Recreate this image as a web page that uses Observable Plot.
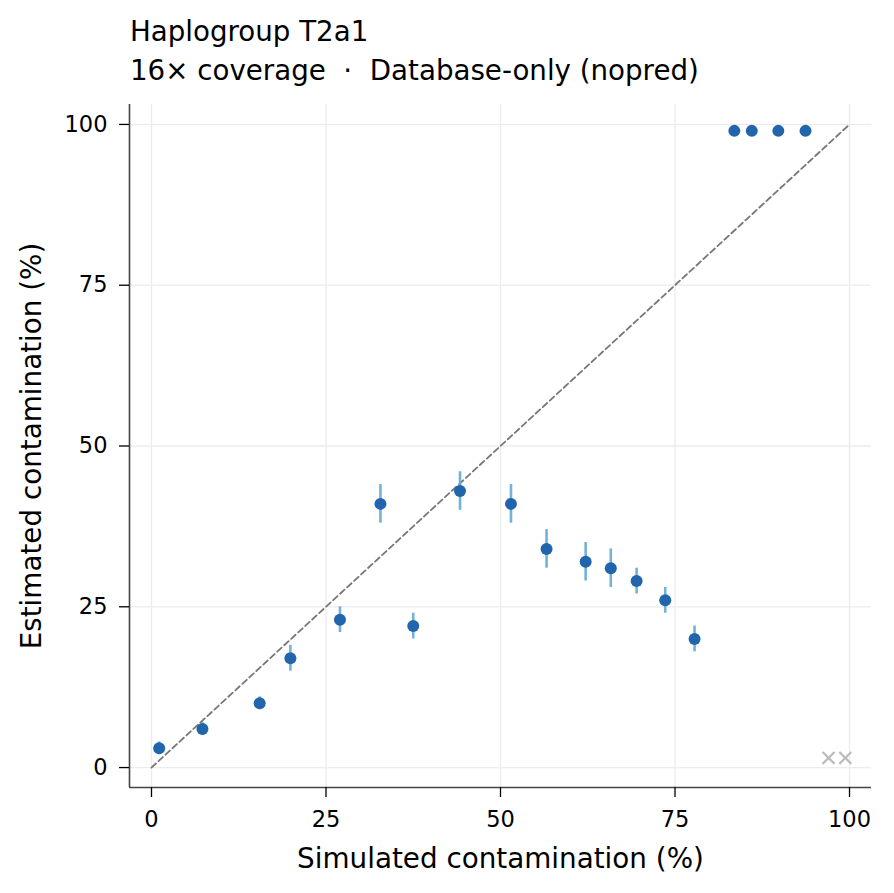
<!DOCTYPE html>
<html>
<head>
<meta charset="utf-8">
<script src="https://cdn.jsdelivr.net/npm/d3@7"></script>
<script src="https://cdn.jsdelivr.net/npm/@observablehq/plot@0.6"></script>
<style>
  body { margin: 0; background: #fff; font-family: "DejaVu Sans", sans-serif; }
  #head { position: relative; height: 90px; width: 894px; }
  #head div { position: absolute; left: 130px; font-size: 27.7px; line-height: normal; color: #000; white-space: pre; }
</style>
</head>
<body>
<div id="head">
  <div id="t1" style="top: 15px;">Haplogroup T2a1</div>
  <div id="t2" style="top: 54px;">16× coverage  ·  Database-only (nopred)</div>
</div>
<div id="chart"></div>
<script>
// Simulated contamination (%)
const simulated = [1.1, 7.3, 15.5, 19.9, 27.0, 32.8, 37.5, 44.2, 51.5, 56.6, 62.2, 65.8, 69.5, 73.6, 77.8, 83.5, 86.0, 89.8, 93.7];
// Estimated contamination (%)
const estimated = [3, 6, 10, 17, 23, 41, 22, 43, 41, 34, 32, 31, 29, 26, 20, 99, 99, 99, 99];
const lower     = [2, 5, 9, 15, 21, 38, 20, 40, 38, 31, 29, 28, 27, 24, 18, 99, 99, 99, 99];
const upper     = [4, 7, 11, 19, 25, 44, 24, 46, 44, 37, 35, 34, 31, 28, 22, 99, 99, 99, 99];
// failed runs (shown as crosses)
const failedX = [97.0, 99.4];
const failedY = [1.5, 1.5];
const ticks = [0, 25, 50, 75, 100];
const diagonal = [0, 100];
const xDomain = [-3.15, 103.15];
const yDomain = [-3.1, 103.1];

const data = simulated.map((x, i) => ({x, y: estimated[i], lo: lower[i], hi: upper[i]}));
const failed = failedX.map((x, i) => ({x, y: failedY[i]}));

const chart = Plot.plot({
  width: 894,
  height: 803,
  marginTop: 14,
  marginBottom: 106,
  marginLeft: 129,
  marginRight: 23,
  style: {fontFamily: "DejaVu Sans, sans-serif", color: "#000", background: "#fff"},
  x: {domain: xDomain},
  y: {domain: yDomain},
  marks: [
    Plot.gridX(ticks, {stroke: "#ececec", strokeOpacity: 1, strokeWidth: 1.3}),
    Plot.gridY(ticks, {stroke: "#ececec", strokeOpacity: 1, strokeWidth: 1.3}),
    Plot.line(diagonal, {x: d => d, y: d => d, stroke: "#777", strokeWidth: 1.8, strokeDasharray: "6,3.5"}),
    Plot.ruleX(data, {x: "x", y1: "lo", y2: "hi", stroke: "#6baed6", strokeWidth: 2.6, strokeOpacity: 0.95}),
    Plot.dot(data, {x: "x", y: "y", r: 6, fill: "#2166ac", stroke: "none"}),
    Plot.dot(failed, {x: "x", y: "y", symbol: "times", r: 5.5, stroke: "#bbbbbb", strokeWidth: 2.2}),
    Plot.ruleX([xDomain[0]], {stroke: "#444", strokeWidth: 1.6}),
    Plot.ruleY([yDomain[0]], {stroke: "#444", strokeWidth: 1.6}),
    Plot.axisX(ticks, {tickSize: 10, tickPadding: 14, fontSize: 22.5, stroke: "#000", strokeWidth: 1.3,
      label: "Simulated contamination (%)", labelAnchor: "center", labelArrow: "none", labelOffset: 80}),
    Plot.axisY(ticks, {tickSize: 10, tickPadding: 12, fontSize: 22.5, stroke: "#000", strokeWidth: 1.3,
      label: "Estimated contamination (%)", labelAnchor: "center", labelArrow: "none", labelOffset: 108})
  ]
});
// axis label font size
chart.querySelectorAll("g[aria-label='x-axis label'] text, g[aria-label='y-axis label'] text").forEach(t => t.setAttribute("font-size", "27.8"));
document.getElementById("chart").appendChild(chart);
</script>
</body>
</html>
